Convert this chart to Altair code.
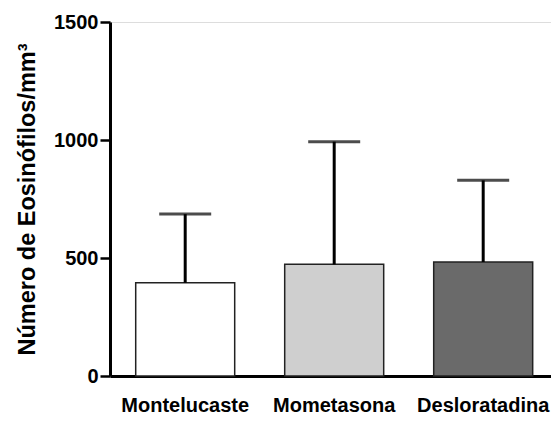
import altair as alt
import pandas as pd

categories = ["Montelucaste", "Mometasona", "Desloratadina"]
means = [395, 473, 483]
uppers = [686, 993, 829]
fills = ["#ffffff", "#cfcfcf", "#6a6a6a"]
y_ticks = [0, 500, 1000, 1500]

df = pd.DataFrame({"cat": categories, "mean": means, "upper": uppers, "fill": fills})

FONT = "Liberation Sans"

x = alt.X("cat:N", sort=categories, title=None,
          scale=alt.Scale(paddingInner=0.3356, paddingOuter=0.1477, align=0.584),
          axis=alt.Axis(labelAngle=0, ticks=False, labelPadding=19, labelFontSize=20,
                        labelFontWeight="bold", labelFont=FONT, labelColor="black",
                        domainColor="black", domainWidth=3))

y_axis = alt.Axis(values=y_ticks, format="d", tickSize=10, tickWidth=2.5, tickColor="black",
                  labelFontSize=20, labelFontWeight="bold", labelFont=FONT, labelColor="black",
                  labelPadding=2, domainColor="black", domainWidth=3, grid=False,
                  titleFontSize=23.5, titleFontWeight="bold", titleFont=FONT, titleColor="black",
                  titlePadding=14)

base = alt.Chart(df)

bars = base.mark_bar(stroke="#222222", strokeWidth=1.5).encode(
    x=x,
    y=alt.Y("mean:Q", scale=alt.Scale(domain=[0, 1500], nice=False),
            title="Número de Eosinófilos/mm³", axis=y_axis),
    fill=alt.Fill("fill:N", scale=None),
)

rules = base.mark_rule(color="black", strokeWidth=3).encode(
    x=alt.X("cat:N", sort=categories),
    y="mean:Q",
    y2="upper:Q",
)

caps = base.mark_tick(color="black", size=52, thickness=3, orient="horizontal").encode(
    x=alt.X("cat:N", sort=categories),
    y="upper:Q",
)

chart = (bars + rules + caps).properties(
    width=441, height=354,
    autosize=alt.AutoSizeParams(type="none"),
    padding={"left": 102, "top": 14, "right": 0, "bottom": 41},
).configure_view(stroke=None).configure_axis(grid=False).configure(background="white")

chart.save("out.html", embed_options={"renderer": "svg", "actions": False})
